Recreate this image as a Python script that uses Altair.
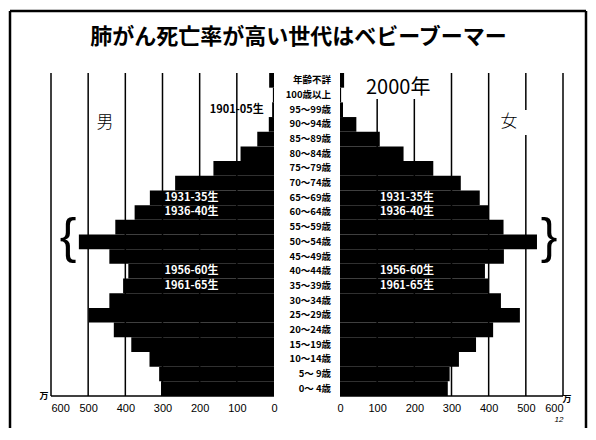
import altair as alt
import pandas as pd

# ---------------- data (unit: 万人) ----------------
ages = ["0〜 4歳", "5〜 9歳", "10〜14歳", "15〜19歳", "20〜24歳", "25〜29歳",
        "30〜34歳", "35〜39歳", "40〜44歳", "45〜49歳", "50〜54歳", "55〜59歳",
        "60〜64歳", "65〜69歳", "70〜74歳", "75〜79歳", "80〜84歳", "85〜89歳",
        "90〜94歳", "95〜99歳", "100歳以上", "年齢不詳"]
male = [304, 309, 335, 384, 431, 498, 443, 406, 392, 443, 525, 427,
        375, 334, 266, 163, 90, 45, 14, 5, 3, 13]
female = [290, 295, 320, 366, 412, 484, 433, 400, 390, 441, 530, 440,
          400, 376, 325, 251, 171, 107, 44, 8, 3, 11]
tick_values = [0, 100, 200, 300, 400, 500, 600]

title_text = "肺がん死亡率が高い世代はベビーブーマー"
year_text = "2000年"
male_label = "男"
female_label = "女"
unit_label = "万"
page_label = "12"

cohort_labels = ["1931-35生", "1936-40生", "1956-60生", "1961-65生"]
cohort_ages = ["65〜69歳", "60〜64歳", "40〜44歳", "35〜39歳"]
oldest_label = "1901-05生"
oldest_age = "95〜99歳"
boom_age = "50〜54歳"

# ---------------- layout ----------------
W, H = 512, 323
PAD = {"left": 43, "top": 65, "right": 25, "bottom": 32}
G = 88.8                      # half gap between the two panels (in value units)
XMAX = 600 + G
NROW = len(ages)
PX = W / (2 * XMAX)           # pixels per value unit
ROW_PX = H / NROW
X0_PAGE, Y0_PAGE = 8 + PAD["left"], 8 + PAD["top"]


def ux(page_x):
    return (page_x - X0_PAGE) / PX - XMAX


def uy(page_y):
    return (Y0_PAGE + H - page_y) / ROW_PX


row = {a: i for i, a in enumerate(ages)}

xscale = alt.Scale(domain=[-XMAX, XMAX], nice=False, zero=False)
yscale = alt.Scale(domain=[0, NROW], nice=False, zero=False)

tickvals = [-(G + v) for v in tick_values] + [G + v for v in tick_values]
xaxis = alt.Axis(values=tickvals, labelExpr=f"round(abs(datum.value) - {G})",
                 title=None, domain=False, ticks=False, grid=False,
                 labelFontSize=11, labelColor="black", labelFont="Liberation Sans",
                 labelPadding=6, labelOverlap=False)


def X(field):
    return alt.X(field, scale=xscale, axis=xaxis)


def Y(field):
    return alt.Y(field, scale=yscale, axis=None)


# bars
bars_df = pd.DataFrame({
    "age": ages * 2,
    "idx": list(range(NROW)) * 2,
    "sex": ["M"] * NROW + ["F"] * NROW,
    "value": male + female,
})
bars = alt.Chart(bars_df).transform_calculate(
    x0=f"datum.sex == 'M' ? -{G} - datum.value : {G}",
    x1=f"datum.sex == 'M' ? -{G} : {G} + datum.value",
    y0="datum.idx",
    y1="datum.idx + 1",
).mark_rect(color="black").encode(
    x=X("x0:Q"), x2="x1:Q", y=Y("y0:Q"), y2="y1:Q"
)

# grid lines (some are interrupted by text boxes in the original)
grid_rows = []
for v in tick_values[1:]:
    grid_rows.append({"gx": -(G + v), "g0": 0, "g1": NROW})
    if v in (100, 200):
        grid_rows.append({"gx": G + v, "g0": 0, "g1": uy(99)})
    elif v == 500:
        grid_rows.append({"gx": G + v, "g0": 0, "g1": uy(135)})
        grid_rows.append({"gx": G + v, "g0": uy(110), "g1": NROW})
    else:
        grid_rows.append({"gx": G + v, "g0": 0, "g1": NROW})
grid = alt.Chart(pd.DataFrame(grid_rows)).mark_rule(
    color="black", strokeWidth=1.5
).encode(x=X("gx:Q"), y=Y("g0:Q"), y2="g1:Q")

base_df = pd.DataFrame({"b0": [-(G + 600), G], "b1": [-G, G + 600], "by": [0, 0]})
baseline = alt.Chart(base_df).mark_rule(color="black", strokeWidth=1.5).encode(
    x=X("b0:Q"), x2="b1:Q", y=Y("by:Q")
)

# age labels in the middle
age_df = pd.DataFrame({"age": ages, "ly": [i + 0.5 for i in range(NROW)],
                       "lx": [ux(331)] * NROW})
age_text = alt.Chart(age_df).mark_text(
    align="right", baseline="middle", fontSize=9.5, fontWeight="bold",
    font="Noto Sans CJK JP", color="black"
).encode(x=X("lx:Q"), y=Y("ly:Q"), text="age:N")

# cohort labels (white on the bars)
coh_rows = []
for lab, a in zip(cohort_labels, cohort_ages):
    coh_rows.append({"t": lab, "cx": -(G + 222), "cy": row[a] + 0.5})
    coh_rows.append({"t": lab, "cx": G + 180, "cy": row[a] + 0.5})
cohort = alt.Chart(pd.DataFrame(coh_rows)).mark_text(
    align="center", baseline="middle", fontSize=11, fontWeight="bold",
    font="Noto Sans CJK JP", color="white"
).encode(x=X("cx:Q"), y=Y("cy:Q"), text="t:N")

oldest = alt.Chart(pd.DataFrame({"t": [oldest_label], "cx": [-(G + 100)],
                                 "cy": [row[oldest_age] + 0.5]})).mark_text(
    align="center", baseline="middle", fontSize=11, fontWeight="bold",
    font="Noto Sans CJK JP", color="black"
).encode(x=X("cx:Q"), y=Y("cy:Q"), text="t:N")

# braces around the baby boomer row
brace_df = pd.DataFrame({"t": ["{", "}"], "bx": [ux(68), ux(549)],
                         "by": [row[boom_age] + 0.5] * 2})
braces = alt.Chart(brace_df).mark_text(
    align="center", baseline="middle", fontSize=50, font="Liberation Sans",
    color="black", dy=-4
).encode(x=X("bx:Q"), y=Y("by:Q"), text="t:N")

sex_df = pd.DataFrame({"t": [male_label, female_label],
                       "sx": [ux(105), ux(509)], "sy": [uy(123), uy(122)]})
sex_text = alt.Chart(sex_df).mark_text(
    align="center", baseline="middle", fontSize=17, fontWeight=300,
    font="Noto Sans CJK JP", color="black"
).encode(x=X("sx:Q"), y=Y("sy:Q"), text="t:N")

year = alt.Chart(pd.DataFrame({"t": [year_text], "yx": [ux(366)],
                               "yy": [uy(88)]})).mark_text(
    align="left", baseline="middle", fontSize=20, font="Noto Sans CJK JP",
    color="black"
).encode(x=X("yx:Q"), y=Y("yy:Q"), text="t:N")

title = alt.Chart(pd.DataFrame({"t": [title_text], "tx": [ux(298.5)],
                                "ty": [uy(37)]})).mark_text(
    align="center", baseline="middle", fontSize=22, fontWeight="bold",
    font="Noto Sans CJK JP", color="black"
).encode(x=X("tx:Q"), y=Y("ty:Q"), text="t:N")

unit_df = pd.DataFrame({"t": [unit_label, unit_label],
                        "ux_": [ux(44), ux(567)], "uy_": [uy(396), uy(399)]})
units = alt.Chart(unit_df).mark_text(
    align="center", baseline="middle", fontSize=9, fontWeight="bold",
    font="Noto Sans CJK JP", color="black"
).encode(x=X("ux_:Q"), y=Y("uy_:Q"), text="t:N")

page = alt.Chart(pd.DataFrame({"t": [page_label], "px": [ux(559)],
                               "py": [uy(420)]})).mark_text(
    align="center", baseline="middle", fontSize=8, fontStyle="italic",
    font="Liberation Sans", color="black"
).encode(x=X("px:Q"), y=Y("py:Q"), text="t:N")

# slide frame (decoration); the right edge is kept inside the 580px canvas
fl, ft, fr, fb = 10 - X0_PAGE, 11 - Y0_PAGE, 586 - X0_PAGE, 460 - Y0_PAGE
frame_style = dict(color="black", strokeWidth=2.5)
frame = (
    alt.Chart().mark_rule(**frame_style).encode(
        x=alt.value(fl), y=alt.value(ft), y2=alt.value(fb))
    + alt.Chart().mark_rule(**frame_style).encode(
        x=alt.value(fr), y=alt.value(ft), y2=alt.value(fb))
    + alt.Chart().mark_rule(**frame_style).encode(
        x=alt.value(fl), x2=alt.value(fr), y=alt.value(ft))
)

chart = alt.layer(
    grid, bars, baseline, age_text, cohort, oldest, braces, sex_text, year,
    title, units, page, frame
).properties(
    width=W, height=H,
    autosize=alt.AutoSizeParams(type="none"),
    padding=PAD,
    background="white",
).configure_view(stroke=None)

chart.save("out.html", embed_options={"renderer": "svg", "actions": False})
